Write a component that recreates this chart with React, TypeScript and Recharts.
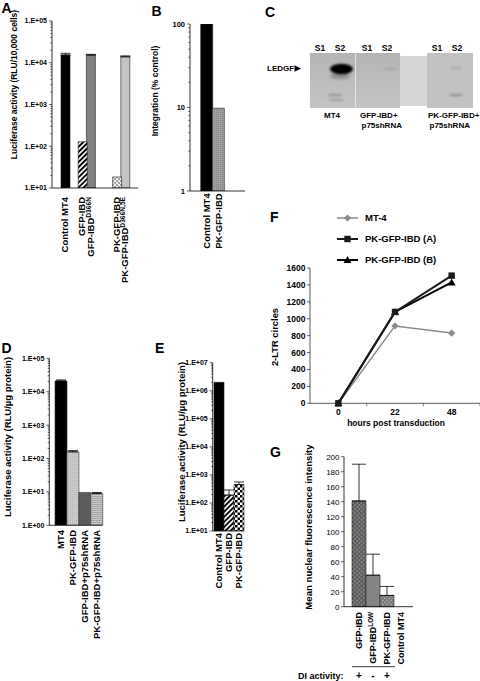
import React from 'react';
import { BarChart, Bar, XAxis, YAxis, Cell, ErrorBar, LineChart, Line, Legend } from 'recharts';

const FONT = '"Liberation Sans", Arial, Helvetica, sans-serif';
const AXIS = { stroke: '#000', strokeWidth: 0.8 };

// A - luciferase per 10,000 cells (log)
const aKeys = ['ctrl', 'gfp', 'gfpD', 'pk', 'pkD'];
const aLabels = ['Control MT4', 'GFP-IBD', 'GFP-IBD', 'PK-GFP-IBD', 'PK-GFP-IBD'];
const aSups = ['', '', 'D366N', '', 'D366N,5E'];
const aValues = [15300, 128, 15300, 18.4, 13900];
const aErrors = [1500, 0, 600, 0, 700];
const aSlots = ['right', 'right', 'left', 'right', 'left'];
const aTicks = [10, 100, 1000, 10000, 100000];

// B - integration
const bLabels = ['Control MT4', 'PK-GFP-IBD'];
const bValues = [100, 9.8];
const bTicks = [1, 10, 100];

// D - luciferase per ug protein
const dLabels = ['MT4', 'PK-GFP-IBD', 'GFP-IBD+p75shRNA', 'PK-GFP-IBD+p75shRNA'];
const dValues = [21000, 158, 9.6, 8.9];
const dErrors = [1500, 14, 0, 0.7];
const dTicks = [1, 10, 100, 1000, 10000, 100000];

// E - luciferase per ug protein
const eLabels = ['Control MT4', 'GFP-IBD', 'PK-GFP-IBD'];
const eValues = [2000000, 190, 450];
const eErrors = [0, 100, 110];
const eTicks = [10, 100, 1000, 10000, 100000, 1000000, 10000000];

// F - 2-LTR circles
const fHours = ['0', '22', '48'];
const fMt4 = [0, 915, 830];
const fPkA = [0, 1080, 1510];
const fPkB = [0, 1080, 1430];
const fTicks = [0, 200, 400, 600, 800, 1000, 1200, 1400, 1600];

// G - nuclear fluorescence
const gLabels = ['GFP-IBD', 'GFP-IBD', 'PK-GFP-IBD', 'Control MT4'];
const gSups = ['', 'LOW', '', ''];
const gValues = [141, 42, 15, 0];
const gErrors = [49, 28, 12, 0];
const gDi = ['+', '-', '+', ''];
const gTicks = [0, 20, 40, 60, 80, 100, 120, 140, 160, 180, 200];

const aFills = ['#000', 'url(#hatch)', '#808080', 'url(#checkLight)', '#c3c3c3'];
const bFills = ['#000', 'url(#dotsGray)'];
const dFills = ['#000', 'url(#dotsLight)', '#5c5c5c', 'url(#hLines)'];
const eFills = ['#000', 'url(#hatch)', 'url(#checkBW)'];
const gFills = ['url(#crossDark)', '#858585', 'url(#crossMid)', '#999'];

const fSeries = [
  { key: 'mt4', name: 'MT-4', color: '#8a8a8a', shape: 'diamond', width: 1.5 },
  { key: 'a', name: 'PK-GFP-IBD (A)', color: '#1a1a1a', shape: 'square', width: 2 },
  { key: 'b', name: 'PK-GFP-IBD (B)', color: '#000', shape: 'triangle', width: 2 },
];

const err = (e: number) => (e ? [0, e] : 0);

const aData = aKeys.map((k, i) => ({
  key: k,
  left: aSlots[i] === 'left' ? aValues[i] : null,
  right: aSlots[i] === 'right' ? aValues[i] : null,
  leftErr: aSlots[i] === 'left' ? err(aErrors[i]) : 0,
  rightErr: aSlots[i] === 'right' ? err(aErrors[i]) : 0,
}));
const bData = bLabels.map((l, i) => ({ name: l, value: bValues[i] }));
const dData = dLabels.map((l, i) => ({ name: l, value: dValues[i], e: err(dErrors[i]) }));
const eData = eLabels.map((l, i) => ({ name: l, value: eValues[i], e: err(eErrors[i]) }));
const fData = fHours.map((h, i) => ({ h, mt4: fMt4[i], a: fPkA[i], b: fPkB[i] }));
const gData = gLabels.map((l, i) => ({ key: 'g' + i, value: gValues[i], e: err(gErrors[i]) }));

const withMinors = (majors: number[]) =>
  majors.flatMap((d, i) => (i < majors.length - 1 ? [d, 2 * d, 3 * d, 4 * d, 5 * d, 6 * d, 7 * d, 8 * d, 9 * d] : [d]));
const sci = (v: number) => '1.E+' + String(Math.round(Math.log10(v))).padStart(2, '0');

const logTick = (fmt: (v: number) => string, fs: number) => (p: any) => {
  const v = p.payload.value;
  const lg = Math.log10(v);
  const major = Math.abs(lg - Math.round(lg)) < 1e-6;
  return (
    <g>
      <line x1={p.x - (major ? 3 : 1.6)} x2={p.x} y1={p.y} y2={p.y} stroke="#000" strokeWidth={0.6} />
      {major && (
        <text x={p.x - 5} y={p.y} dy="0.35em" textAnchor="end" fontSize={fs} fontWeight="bold" fontFamily={FONT} fill="#000">
          {fmt(v)}
        </text>
      )}
    </g>
  );
};

const linTick = (fs: number, weight: string) => (p: any) => (
  <g>
    <line x1={p.x - 3} x2={p.x} y1={p.y} y2={p.y} stroke="#000" strokeWidth={0.6} />
    <text x={p.x - 4.5} y={p.y} dy="0.35em" textAnchor="end" fontSize={fs} fontWeight={weight} fontFamily={FONT} fill="#000">
      {p.payload.value}
    </text>
  </g>
);

const rotTick = (keys: string[], labels: string[], sups: string[], fs: number, gap: number, shift?: number[], extra?: string[], extraDy?: number) => (p: any) => {
  const i = keys.indexOf(p.payload.value);
  const x = p.x + (shift ? shift[i] : 0);
  return (
    <g>
      <text transform={`translate(${x},${p.y + gap}) rotate(-90)`} textAnchor="end" fontSize={fs} fontWeight="bold" fontFamily={FONT} fill="#000">
        <tspan dy="0.35em">{labels[i]}</tspan>
        {sups[i] ? (
          <tspan fontSize={fs * 0.7} dy="-0.45em">
            {sups[i]}
          </tspan>
        ) : null}
      </text>
      {extra && extra[i] ? (
        <text x={x} y={p.y + (extraDy || 0)} textAnchor="middle" fontSize={10} fontWeight="bold" fontFamily={FONT} fill="#000">
          {extra[i]}
        </text>
      ) : null}
    </g>
  );
};

function Marker({ cx, cy, shape, color }: any) {
  if (cx == null || cy == null) return null;
  if (shape === 'diamond') return <path d={`M${cx},${cy - 3.6}L${cx + 3.6},${cy}L${cx},${cy + 3.6}L${cx - 3.6},${cy}Z`} fill={color} />;
  if (shape === 'square') return <rect x={cx - 3.2} y={cy - 3.2} width={6.4} height={6.4} fill={color} />;
  return <path d={`M${cx},${cy - 4}L${cx + 4},${cy + 3}L${cx - 4},${cy + 3}Z`} fill={color} />;
}

function Patterns() {
  return (
    <svg width={0} height={0} style={{ position: 'absolute' }}>
      <defs>
        <pattern id="hatch" width={3.6} height={3.6} patternUnits="userSpaceOnUse" patternTransform="rotate(45)">
          <rect width={3.6} height={3.6} fill="#fff" />
          <rect width={1.9} height={3.6} fill="#000" />
        </pattern>
        <pattern id="checkLight" width={4} height={4} patternUnits="userSpaceOnUse">
          <rect width={4} height={4} fill="#f2f2f2" />
          <rect width={2} height={2} fill="#a0a0a0" />
          <rect x={2} y={2} width={2} height={2} fill="#a0a0a0" />
        </pattern>
        <pattern id="checkBW" width={5} height={5} patternUnits="userSpaceOnUse">
          <rect width={5} height={5} fill="#fff" />
          <rect width={2.5} height={2.5} fill="#000" />
          <rect x={2.5} y={2.5} width={2.5} height={2.5} fill="#000" />
        </pattern>
        <pattern id="dotsGray" width={2} height={2} patternUnits="userSpaceOnUse">
          <rect width={2} height={2} fill="#a0a0a0" />
          <rect width={1} height={1} fill="#858585" />
        </pattern>
        <pattern id="dotsLight" width={2} height={2} patternUnits="userSpaceOnUse">
          <rect width={2} height={2} fill="#cbcbcb" />
          <rect width={1} height={1} fill="#b6b6b6" />
        </pattern>
        <pattern id="hLines" width={2} height={2} patternUnits="userSpaceOnUse">
          <rect width={2} height={2} fill="#c8c8c8" />
          <rect width={2} height={1} fill="#a4a4a4" />
        </pattern>
        <pattern id="crossDark" width={3} height={3} patternUnits="userSpaceOnUse" patternTransform="rotate(45)">
          <rect width={3} height={3} fill="#8a8a8a" />
          <rect width={1.1} height={3} fill="#555" />
          <rect width={3} height={1.1} fill="#555" />
        </pattern>
        <pattern id="crossMid" width={3} height={3} patternUnits="userSpaceOnUse" patternTransform="rotate(45)">
          <rect width={3} height={3} fill="#a0a0a0" />
          <rect width={1} height={3} fill="#707070" />
          <rect width={3} height={1} fill="#707070" />
        </pattern>
        <filter id="blurBand" x="-50%" y="-50%" width="200%" height="200%">
          <feGaussianBlur stdDeviation="0.9" />
        </filter>
        <filter id="blurSoft" x="-50%" y="-50%" width="200%" height="200%">
          <feGaussianBlur stdDeviation="1.4" />
        </filter>
        <linearGradient id="blotBg" x1="0" y1="0" x2="0" y2="1">
          <stop offset="0" stopColor="#b4b4b4" />
          <stop offset="1" stopColor="#c4c4c4" />
        </linearGradient>
      </defs>
    </svg>
  );
}

function PanelA() {
  return (
    <BarChart width={150} height={300} data={aData} margin={{ top: 21, right: 12, bottom: 0, left: 0 }} barCategoryGap={0} barGap={0}>
      <XAxis dataKey="key" type="category" height={112} interval={0} tickLine={false} tickSize={0} tickMargin={0} axisLine={AXIS}
        tick={rotTick(aKeys, aLabels, aSups, 9.5, 9, aSlots.map((s) => (s === 'left' ? -4.3 : 4.3)))} />
      <YAxis type="number" scale="log" domain={[10, 100000]} allowDataOverflow ticks={withMinors(aTicks)} interval={0} width={52}
        tickLine={false} tickSize={0} tickMargin={0} axisLine={AXIS} tick={logTick(sci, 7)} />
      <Bar dataKey="left" isAnimationActive={false} stroke="#222" strokeWidth={0.6}>
        {aData.map((d, i) => <Cell key={d.key} fill={aFills[i]} />)}
        <ErrorBar dataKey="leftErr" width={5} stroke="#000" strokeWidth={0.8} direction="y" />
      </Bar>
      <Bar dataKey="right" isAnimationActive={false} stroke="#222" strokeWidth={0.6}>
        {aData.map((d, i) => <Cell key={d.key} fill={aFills[i]} />)}
        <ErrorBar dataKey="rightErr" width={5} stroke="#000" strokeWidth={0.8} direction="y" />
      </Bar>
    </BarChart>
  );
}

function PanelB() {
  return (
    <BarChart width={100} height={300} data={bData} margin={{ top: 24, right: 5, bottom: 0, left: 0 }} barCategoryGap={0}>
      <XAxis dataKey="name" type="category" height={109} interval={0} tickLine={false} tickSize={0} tickMargin={0} axisLine={AXIS}
        padding={{ left: 10.7, right: 21 }} tick={rotTick(bLabels, bLabels, ['', ''], 9.5, 2.3)} />
      <YAxis type="number" scale="log" domain={[1, 100]} allowDataOverflow ticks={withMinors(bTicks)} interval={0} width={40}
        tickLine={false} tickSize={0} tickMargin={0} axisLine={AXIS} tick={logTick((v) => String(v), 7.5)} />
      <Bar dataKey="value" isAnimationActive={false} stroke="#222" strokeWidth={0.6}>
        {bData.map((d, i) => <Cell key={d.name} fill={bFills[i]} />)}
      </Bar>
    </BarChart>
  );
}

function PanelD() {
  return (
    <BarChart width={110} height={330} data={dData} margin={{ top: 28.3, right: 7.3, bottom: 0, left: 0 }} barCategoryGap={0}>
      <XAxis dataKey="name" type="category" height={134.7} interval={0} tickLine={false} tickSize={0} tickMargin={0} axisLine={AXIS}
        padding={{ left: 5.7, right: 0 }} tick={rotTick(dLabels, dLabels, ['', '', '', ''], 9.5, 4.7)} />
      <YAxis type="number" scale="log" domain={[1, 100000]} allowDataOverflow ticks={withMinors(dTicks)} interval={0} width={49.3}
        tickLine={false} tickSize={0} tickMargin={0} axisLine={AXIS} tick={logTick(sci, 7)} />
      <Bar dataKey="value" isAnimationActive={false} stroke="#333" strokeWidth={0.6}>
        {dData.map((d, i) => <Cell key={d.name} fill={dFills[i]} />)}
        <ErrorBar dataKey="e" width={5} stroke="#000" strokeWidth={0.8} direction="y" />
      </Bar>
    </BarChart>
  );
}

function PanelE() {
  return (
    <BarChart width={100} height={300} data={eData} margin={{ top: 32.7, right: 6, bottom: 0, left: 0 }} barCategoryGap={0}>
      <XAxis dataKey="name" type="category" height={99} interval={0} tickLine={false} tickSize={0} tickMargin={0} axisLine={AXIS}
        padding={{ left: 1.3, right: 0 }} tick={rotTick(eLabels, eLabels, ['', '', ''], 9.5, 2)} />
      <YAxis type="number" scale="log" domain={[10, 10000000]} allowDataOverflow ticks={withMinors(eTicks)} interval={0} width={62.7}
        tickLine={false} tickSize={0} tickMargin={0} axisLine={AXIS} tick={logTick(sci, 7)} />
      <Bar dataKey="value" isAnimationActive={false} stroke="#222" strokeWidth={0.6}>
        {eData.map((d, i) => <Cell key={d.name} fill={eFills[i]} />)}
        <ErrorBar dataKey="e" width={5} stroke="#000" strokeWidth={0.8} direction="y" />
      </Bar>
    </BarChart>
  );
}

const fLegend = () => (
  <svg width={120} height={56}>
    {fSeries.map((s, i) => (
      <g key={s.key} transform={`translate(0, ${6 + i * 21})`}>
        <line x1={0} x2={21} y1={0} y2={0} stroke={s.color} strokeWidth={s.width} />
        <Marker cx={10.5} cy={0} shape={s.shape} color={s.color} />
        <text x={28} y={0} dy="0.35em" fontSize={9.5} fontWeight="bold" fontFamily={FONT} fill="#000">
          {s.name}
        </text>
      </g>
    ))}
  </svg>
);

function PanelF() {
  const order = [fSeries[0], fSeries[2], fSeries[1]];
  return (
    <LineChart width={210} height={240} data={fData} margin={{ top: 68, right: 0, bottom: 0, left: 0 }}>
      <XAxis dataKey="h" type="category" height={36.7} interval={0} tickLine={false} tickSize={0} tickMargin={0} axisLine={{ stroke: '#333', strokeWidth: 0.8 }}
        padding={{ left: 28.35, right: 28.35 }}
        tick={(p: any) => (
          <g>
            <line x1={p.x + 28.35} x2={p.x + 28.35} y1={p.y} y2={p.y + 3} stroke="#333" strokeWidth={0.6} />
            <text x={p.x} y={p.y + 11.4} textAnchor="middle" fontSize={8.5} fontWeight="bold" fontFamily={FONT} fill="#000">
              {p.payload.value}
            </text>
          </g>
        )} />
      <YAxis type="number" domain={[0, 1600]} ticks={fTicks} interval={0} width={40} tickLine={false} tickSize={0} tickMargin={0}
        axisLine={{ stroke: '#333', strokeWidth: 0.8 }} tick={linTick(8.5, 'bold')} />
      <Legend layout="vertical" align="center" verticalAlign="middle" content={fLegend} wrapperStyle={{ left: 67, top: 12, width: 120 }} />
      {order.map((s) => (
        <Line key={s.key} dataKey={s.key} name={s.name} stroke={s.color} strokeWidth={s.width} isAnimationActive={false}
          dot={(p: any) => <Marker key={`${s.key}-${p.index}`} cx={p.cx} cy={p.cy} shape={s.shape} color={s.color} />} />
      ))}
    </LineChart>
  );
}

function PanelG() {
  const keys = gData.map((d) => d.key);
  return (
    <BarChart width={120} height={251} data={gData} margin={{ top: 26.7, right: 7, bottom: 0, left: 0 }} barCategoryGap={0}>
      <XAxis dataKey="key" type="category" height={74.3} interval={0} tickLine={false} tickSize={0} tickMargin={0} axisLine={AXIS}
        padding={{ left: 8, right: 5 }} tick={rotTick(keys, gLabels, gSups, 9, 5.3, undefined, gDi, 71.8)} />
      <YAxis type="number" domain={[0, 200]} ticks={gTicks} interval={0} width={44} tickLine={false} tickSize={0} tickMargin={0}
        axisLine={AXIS} tick={linTick(8, 'normal')} />
      <Bar dataKey="value" isAnimationActive={false} stroke="#222" strokeWidth={0.6}>
        {gData.map((d, i) => <Cell key={d.key} fill={gFills[i]} />)}
        <ErrorBar dataKey="e" width={7} stroke="#000" strokeWidth={0.8} direction="y" />
      </Bar>
    </BarChart>
  );
}

function Overlay() {
  const b = { fontFamily: FONT, fontWeight: 'bold' as const, fill: '#000' };
  const vt = (x: number, y: number, fs: number, s: string) => (
    <text transform={`translate(${x},${y}) rotate(-90)`} textAnchor="middle" dy="0.35em" fontSize={fs} {...b}>
      {s}
    </text>
  );
  return (
    <svg width={480} height={681} style={{ position: 'absolute', left: 0, top: 0, pointerEvents: 'none' }}>
      {/* panel letters */}
      <text x={1.5} y={12.7} fontSize={14} {...b}>A</text>
      <text x={151.5} y={16} fontSize={14} {...b}>B</text>
      <text x={265} y={16.7} fontSize={14} {...b}>C</text>
      <text x={1.5} y={353} fontSize={14} {...b}>D</text>
      <text x={155} y={352.7} fontSize={14} {...b}>E</text>
      <text x={270} y={221.7} fontSize={14} {...b}>F</text>
      <text x={270} y={456.7} fontSize={14} {...b}>G</text>

      {/* axis titles */}
      {vt(14, 84.5, 8.5, 'Luciferase activity (RLU/10,000 cells)')}
      {vt(155, 91, 8.5, 'Integration (% control)')}
      {vt(8, 437, 9.5, 'Luciferase activity (RLU/µg protein)')}
      {vt(181.7, 442, 9.5, 'Luciferase activity (RLU/µg protein)')}
      {vt(275, 337, 9.4, '2-LTR circles')}
      {vt(309, 527, 9.6, 'Mean nuclear fluorescence intensity')}
      <text x={396} y={426} textAnchor="middle" fontSize={8.5} {...b}>hours post transduction</text>

      {/* G footer */}
      <line x1={352} x2={395} y1={666.7} y2={666.7} stroke="#000" strokeWidth={0.8} />
      <text x={298} y={679} fontSize={9} {...b}>DI activity:</text>

      {/* C: western blot */}
      <rect x={400} y={56} width={27} height={50} fill="#d6d6d6" />
      <rect x={310} y={53} width={45} height={55} fill="url(#blotBg)" />
      <rect x={355.6} y={53} width={44.4} height={55} fill="url(#blotBg)" />
      <rect x={427} y={53} width={46} height={55} fill="#c2c2c2" />
      <g filter="url(#blurSoft)">
        <ellipse cx={340} cy={76} rx={10} ry={3} fill="#8a8a8a" />
      </g>
      <g filter="url(#blurBand)">
        <ellipse cx={341.5} cy={69} rx={11.5} ry={5.3} fill="#000" />
        <ellipse cx={335} cy={95} rx={7.5} ry={1.1} fill="#8c8c8c" />
        <ellipse cx={336} cy={100} rx={8} ry={1.1} fill="#9a9a9a" />
        <ellipse cx={390} cy={69} rx={7} ry={1} fill="#a2a2a2" />
        <ellipse cx={456} cy={68} rx={6.5} ry={1} fill="#a4a4a4" />
        <ellipse cx={456} cy={95} rx={7} ry={1.3} fill="#8e8e8e" />
      </g>
      {[320, 340, 367, 387, 437, 457].map((x, i) => (
        <text key={x} x={x} y={51} textAnchor="middle" fontSize={8.5} {...b}>
          {i % 2 === 0 ? 'S1' : 'S2'}
        </text>
      ))}
      <text x={267} y={71.3} fontSize={8} {...b}>LEDGF</text>
      <path d="M294.5,65.3L301,68.5L294.5,71.7Z" fill="#000" />
      <text x={332} y={118} textAnchor="middle" fontSize={8} {...b}>MT4</text>
      <text x={360} y={118} fontSize={8} {...b}>GFP-IBD+</text>
      <text x={361.5} y={128} fontSize={8} {...b}>p75shRNA</text>
      <text x={428} y={118} fontSize={8} {...b}>PK-GFP-IBD+</text>
      <text x={429.5} y={128} fontSize={8} {...b}>p75shRNA</text>
    </svg>
  );
}

export default function App() {
  return (
    <div style={{ position: 'absolute', left: 0, top: 0, width: 480, height: 681, background: '#fff', overflow: 'hidden', fontFamily: FONT }}>
      <Patterns />
      <div style={{ position: 'absolute', left: 0, top: 0 }}><PanelA /></div>
      <div style={{ position: 'absolute', left: 150, top: 0 }}><PanelB /></div>
      <div style={{ position: 'absolute', left: 0, top: 330 }}><PanelD /></div>
      <div style={{ position: 'absolute', left: 150, top: 330 }}><PanelE /></div>
      <div style={{ position: 'absolute', left: 270, top: 200 }}><PanelF /></div>
      <div style={{ position: 'absolute', left: 300, top: 430 }}><PanelG /></div>
      <Overlay />
    </div>
  );
}
